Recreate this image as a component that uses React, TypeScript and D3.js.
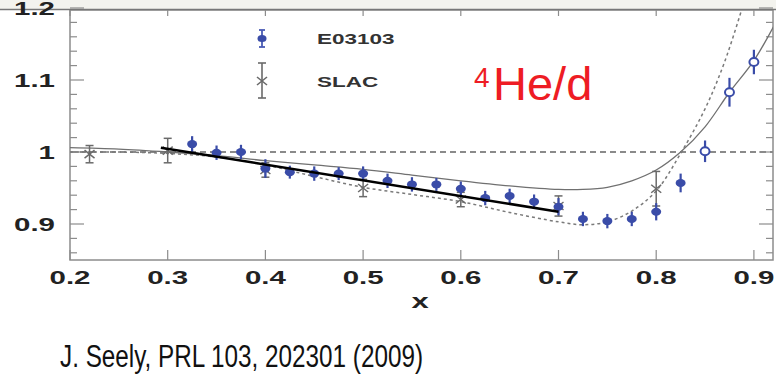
import React from "react";
import * as d3 from "d3";

const W = 776;
const H = 375;

// E03103 (filled)
const eX = [0.325, 0.35, 0.375, 0.4, 0.425, 0.45, 0.475, 0.5, 0.525, 0.55, 0.575, 0.6, 0.625, 0.65, 0.675, 0.7, 0.725, 0.75, 0.775, 0.8, 0.825];
const eY = [1.011, 0.999, 1.0, 0.977, 0.972, 0.97, 0.97, 0.97, 0.96, 0.955, 0.955, 0.949, 0.936, 0.939, 0.931, 0.924, 0.907, 0.904, 0.907, 0.917, 0.957];
const eErr = [0.011, 0.01, 0.01, 0.013, 0.009, 0.01, 0.009, 0.01, 0.01, 0.01, 0.009, 0.01, 0.01, 0.01, 0.01, 0.012, 0.01, 0.01, 0.01, 0.012, 0.013];
// E03103 (open)
const oX = [0.85, 0.875, 0.9];
const oY = [1.001, 1.083, 1.125];
const oErr = [0.015, 0.02, 0.017];
// SLAC
const sX = [0.22, 0.3, 0.4, 0.5, 0.6, 0.7, 0.8];
const sY = [0.997, 1.002, 0.975, 0.95, 0.934, 0.925, 0.949];
const sErr = [0.012, 0.017, 0.01, 0.012, 0.01, 0.014, 0.024];
// solid model curve
const solidX = [0.2, 0.25, 0.3, 0.35, 0.4, 0.45, 0.5, 0.55, 0.6, 0.65, 0.7, 0.725, 0.75, 0.775, 0.8, 0.825, 0.85, 0.875, 0.9, 0.92];
const solidY = [1.006, 1.004, 1.0, 0.995, 0.988, 0.982, 0.976, 0.968, 0.96, 0.953, 0.948, 0.948, 0.951, 0.96, 0.975, 1.0, 1.035, 1.083, 1.127, 1.174];
// dotted model curve
const dotX = [0.2, 0.25, 0.3, 0.35, 0.4, 0.45, 0.5, 0.55, 0.6, 0.65, 0.7, 0.725, 0.75, 0.775, 0.8, 0.825, 0.85, 0.87, 0.888];
const dotY = [1.0, 1.0, 0.998, 0.993, 0.982, 0.966, 0.951, 0.941, 0.931, 0.916, 0.903, 0.899, 0.903, 0.918, 0.946, 0.998, 1.06, 1.125, 1.2];
// black fit line
const fitX = [0.293, 0.7];
const fitY = [1.006, 0.917];

const xTicks = [0.2, 0.3, 0.4, 0.5, 0.6, 0.7, 0.8, 0.9];
const yMajor = [0.9, 1.0, 1.1, 1.2];
const yLabels = ["0.9", "1", "1.1", "1.2"];
const xLabels = ["0.2", "0.3", "0.4", "0.5", "0.6", "0.7", "0.8", "0.9"];

const L = 70, R = 773, T = 10, B = 260;
const x = d3.scaleLinear().domain([0.2, 0.92]).range([L, L + 0.72 * 977]);
const y = d3.scaleLinear().domain([0.85, 1.2]).range([B, B - 0.35 * 720]);

const BLUE = "#3a4ca8";
const GRAY = "#6a6a6a";
const AX = "#8c8c8c";
const FONT = "'Liberation Sans', Arial, sans-serif";

const line = d3.line<[number, number]>().x((d) => x(d[0])).y((d) => y(d[1])).curve(d3.curveCatmullRom);
const zip = (a: number[], b: number[]) => a.map((v, i) => [v, b[i]] as [number, number]);

const yMinor = d3.range(0.86, 1.2001, 0.02).map((v) => +v.toFixed(2));

function StretchText({ tx, ty, text, anchor = "middle", size = 19, sx = 1.55 }: any) {
  return (
    <text
      transform={`translate(${tx},${ty}) scale(${sx},1)`}
      textAnchor={anchor}
      dominantBaseline="central"
      fontFamily={FONT}
      fontWeight="bold"
      fontSize={size}
      fill="#222"
    >
      {text}
    </text>
  );
}

export default function App() {
  return (
    <svg width={W} height={H} style={{ position: "absolute", left: 0, top: 0, background: "#fff" }}>
      <rect x={0} y={0} width={W} height={9} fill="#f3f3ee" />
      <defs>
        <clipPath id="plot">
          <rect x={L} y={T} width={R - L} height={B - T} />
        </clipPath>
      </defs>
      {/* frame */}
      <rect x={L} y={T} width={R - L} height={B - T} fill="#fff" stroke={AX} strokeWidth={1.5} />
      <line x1={0} x2={W} y1={T - 0.5} y2={T - 0.5} stroke="#777" strokeWidth={1.5} />
      {/* y ticks */}
      {yMinor.map((v) => {
        const major = yMajor.some((m) => Math.abs(m - v) < 1e-6);
        return (
          <g key={v}>
            <line x1={L} x2={L + (major ? 14 : 7)} y1={y(v)} y2={y(v)} stroke={AX} strokeWidth={1.2} />
            <line x1={R} x2={R - (major ? 14 : 7)} y1={y(v)} y2={y(v)} stroke={AX} strokeWidth={1.2} />
          </g>
        );
      })}
      {/* x ticks */}
      {xTicks.map((v) => (
        <g key={v}>
          <line x1={x(v)} x2={x(v)} y1={B} y2={B - 10} stroke={AX} strokeWidth={1.2} />
          <line x1={x(v)} x2={x(v)} y1={T} y2={T + 6} stroke={AX} strokeWidth={1.2} />
        </g>
      ))}
      {/* labels */}
      {yMajor.map((v, i) => (
        <StretchText key={v} tx={55} ty={y(v)} text={yLabels[i]} anchor="end" />
      ))}
      {xTicks.map((v, i) => (
        <StretchText key={v} tx={x(v)} ty={277} text={xLabels[i]} />
      ))}
      <StretchText tx={420} ty={301} text="x" size={20} />

      <g clipPath="url(#plot)">
        <line x1={L} x2={R} y1={y(1)} y2={y(1)} stroke="#8a8a8a" strokeWidth={1.8} strokeDasharray="6 4" />
        <path d={line(zip(solidX, solidY)) || ""} fill="none" stroke="#707070" strokeWidth={1.3} />
        <path d={line(zip(dotX, dotY)) || ""} fill="none" stroke="#7a7a7a" strokeWidth={1.5} strokeDasharray="3 3" />
        {/* SLAC */}
        {sX.map((v, i) => {
          const cx = x(v), cy = y(sY[i]);
          const y1 = y(sY[i] + sErr[i]), y2 = y(sY[i] - sErr[i]);
          return (
            <g key={"s" + v} stroke={GRAY} strokeWidth={1.5}>
              <line x1={cx} x2={cx} y1={y1} y2={y2} />
              <line x1={cx - 4} x2={cx + 4} y1={y1} y2={y1} />
              <line x1={cx - 4} x2={cx + 4} y1={y2} y2={y2} />
              <line x1={cx - 5} x2={cx + 5} y1={cy - 4} y2={cy + 4} />
              <line x1={cx - 5} x2={cx + 5} y1={cy + 4} y2={cy - 4} />
            </g>
          );
        })}
        {/* E03103 filled */}
        {eX.map((v, i) => {
          const cx = x(v), cy = y(eY[i]);
          return (
            <g key={"e" + v}>
              <line x1={cx} x2={cx} y1={y(eY[i] + eErr[i])} y2={y(eY[i] - eErr[i])} stroke={BLUE} strokeWidth={2.2} />
              <ellipse cx={cx} cy={cy} rx={5} ry={4} fill={BLUE} />
            </g>
          );
        })}
        {oX.map((v, i) => {
          const cx = x(v), cy = y(oY[i]);
          return (
            <g key={"o" + v}>
              <line x1={cx} x2={cx} y1={y(oY[i] + oErr[i])} y2={y(oY[i] - oErr[i])} stroke={BLUE} strokeWidth={2.2} />
              <ellipse cx={cx} cy={cy} rx={4.5} ry={4} fill="#fff" stroke={BLUE} strokeWidth={2} />
            </g>
          );
        })}
        <path d={line(zip(fitX, fitY)) || ""} fill="none" stroke="#000" strokeWidth={2.5} />
      </g>

      {/* legend */}
      <g stroke="#4a5bb5" strokeWidth={1.8}>
        <line x1={262} x2={262} y1={30} y2={47} />
        <line x1={259} x2={265} y1={30} y2={30} />
        <line x1={259} x2={265} y1={47} y2={47} />
      </g>
      <ellipse cx={262} cy={38.5} rx={4.5} ry={3.5} fill={BLUE} />
      <g stroke={GRAY} strokeWidth={1.6}>
        <line x1={262} x2={262} y1={63} y2={98} />
        <line x1={258} x2={266} y1={63} y2={63} />
        <line x1={258} x2={266} y1={98} y2={98} />
        <line x1={257} x2={267} y1={77} y2={85} />
        <line x1={257} x2={267} y1={85} y2={77} />
      </g>
      <text transform="translate(317,39) scale(1.5,1)" dominantBaseline="central" fontFamily={FONT} fontWeight="bold" fontSize={15} fill="#333">E03103</text>
      <text transform="translate(317,82) scale(1.5,1)" dominantBaseline="central" fontFamily={FONT} fontWeight="bold" fontSize={15} fill="#333">SLAC</text>

      {/* red label */}
      <text fontFamily={FONT} fill="#ee1c24">
        <tspan x={474} y={87} fontSize={28}>4</tspan>
        <tspan x={493} y={100} fontSize={47}>He/d</tspan>
      </text>

      {/* citation */}
      <text x={60} y={367} fontFamily={FONT} fontSize={31} fill="#111" textLength={363} lengthAdjust="spacingAndGlyphs">
        J. Seely, PRL 103, 202301 (2009)
      </text>
    </svg>
  );
}
